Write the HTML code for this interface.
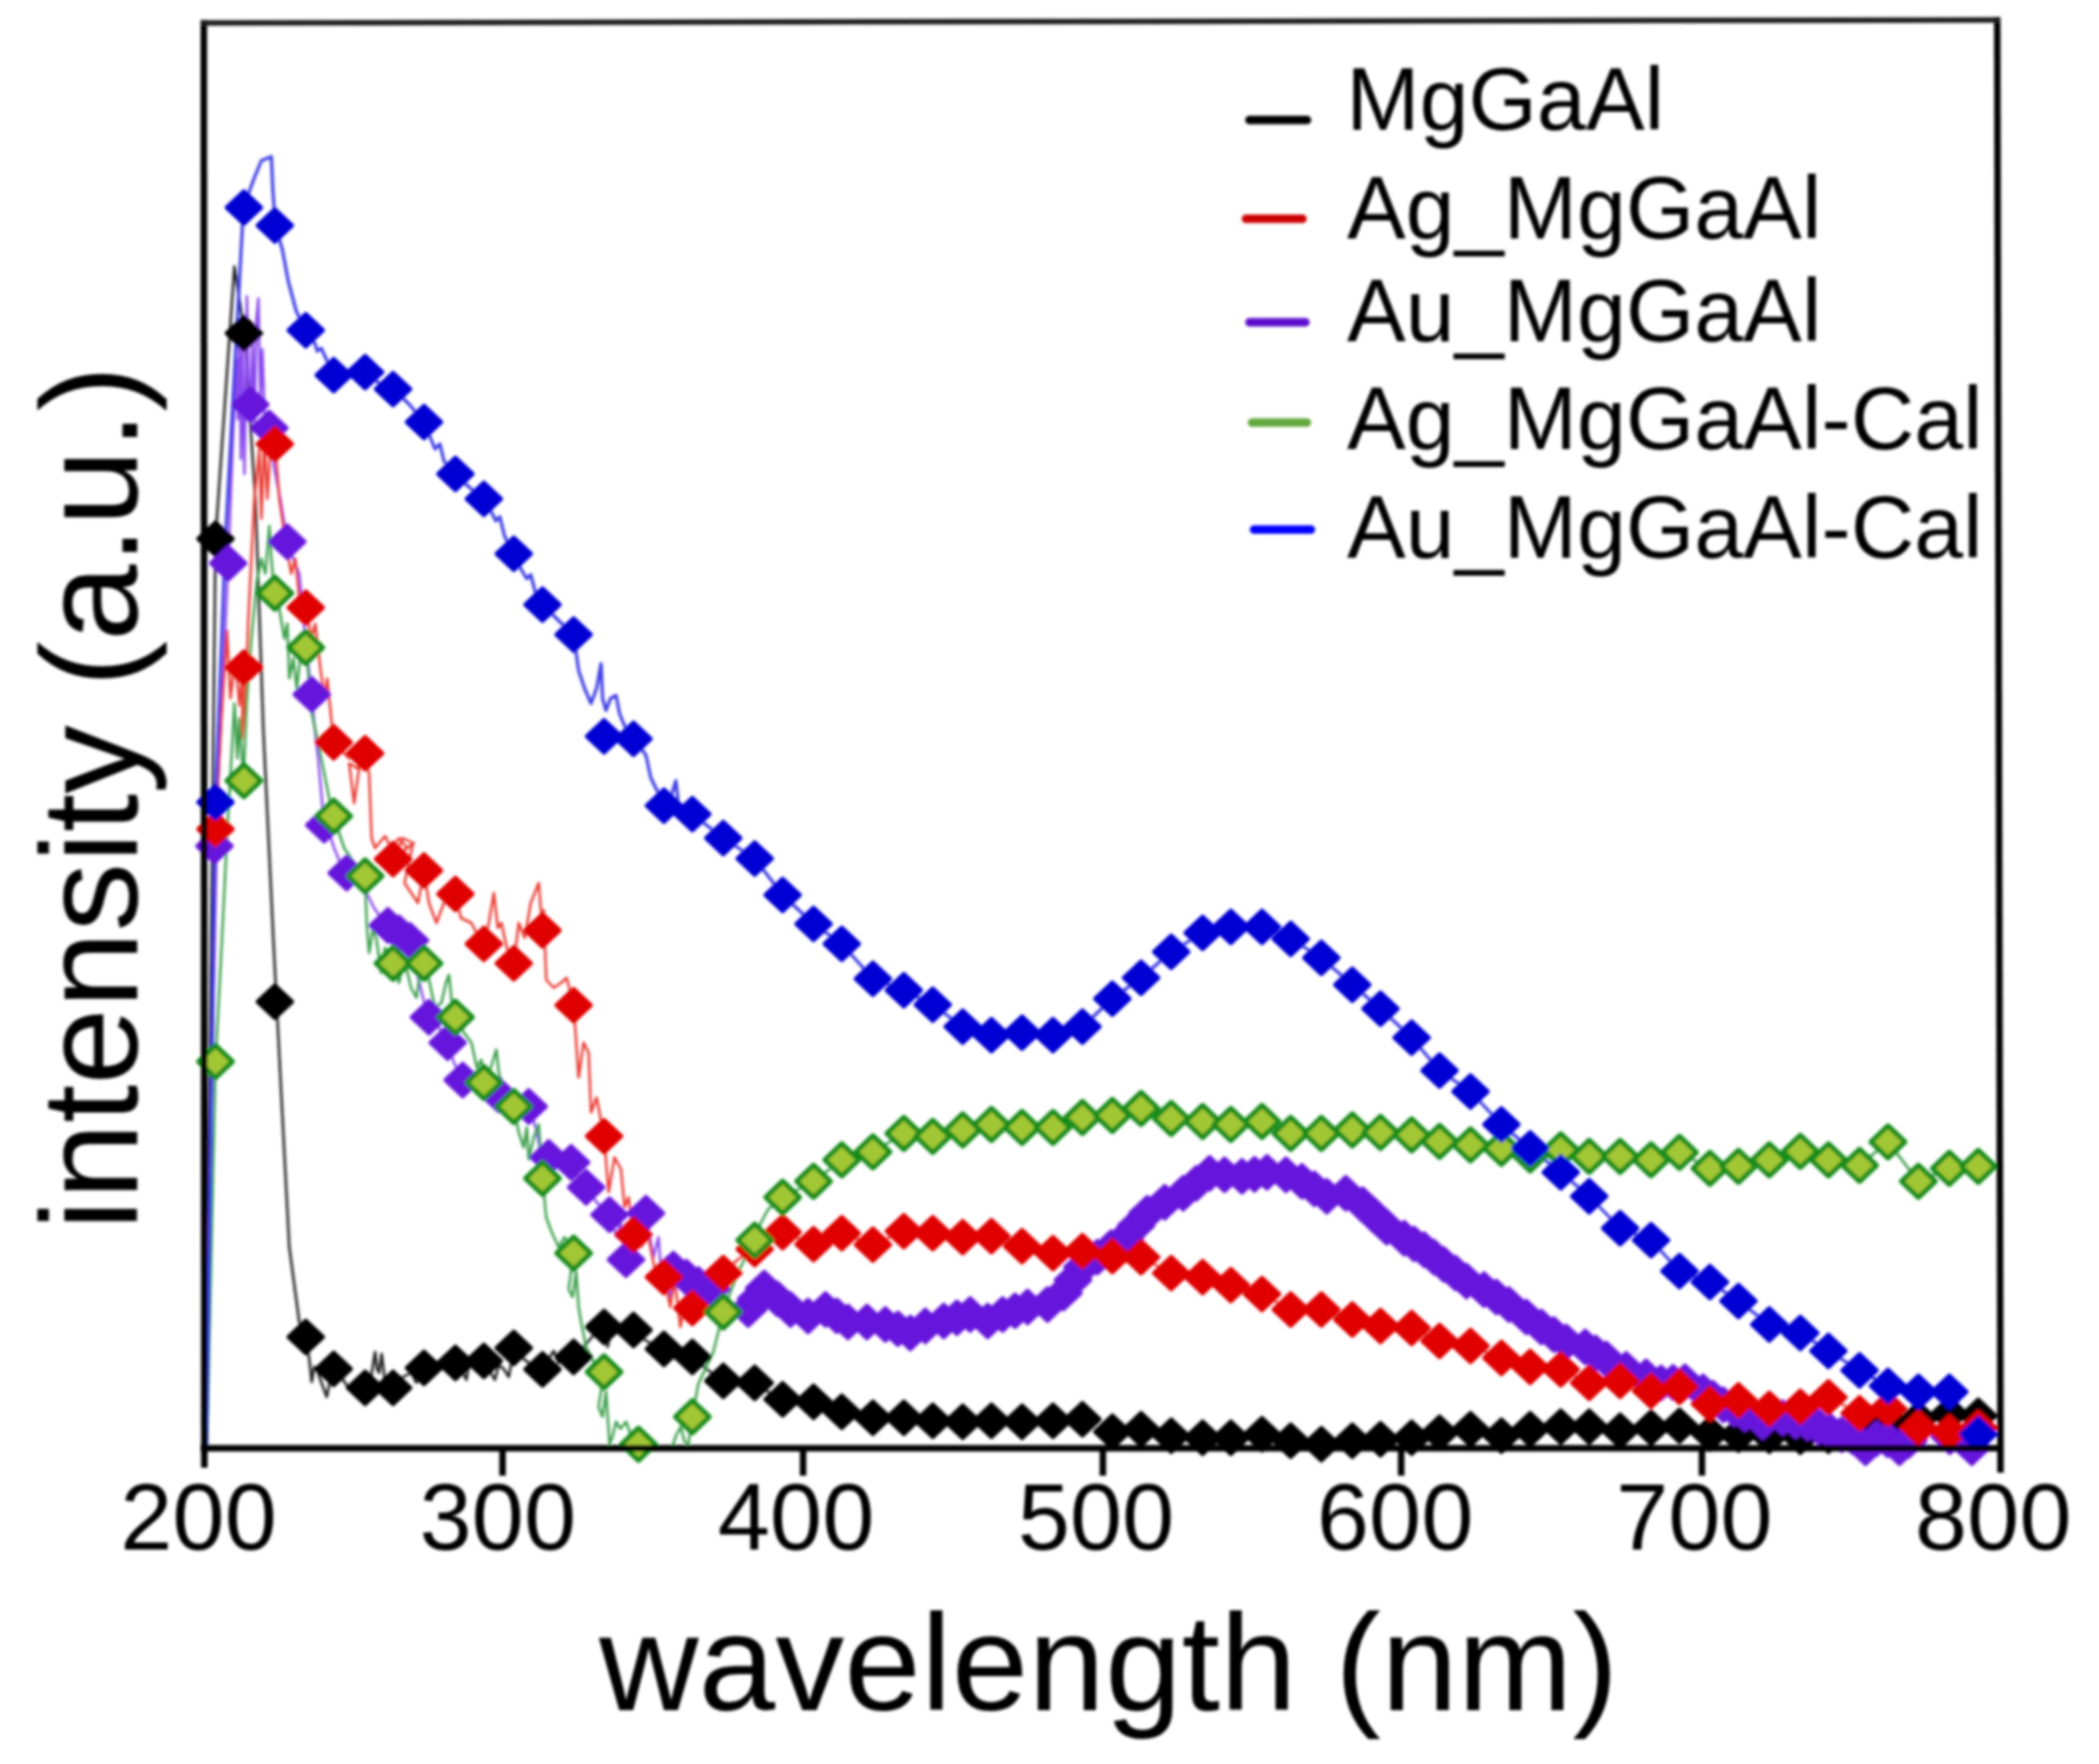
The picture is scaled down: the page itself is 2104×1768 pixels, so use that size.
<!DOCTYPE html>
<html><head><meta charset="utf-8"><title>UV-vis spectra</title>
<style>
html,body{margin:0;padding:0;background:#fff;}
body{width:2104px;height:1768px;overflow:hidden;}
svg{display:block;}
</style></head>
<body>
<svg width="2104" height="1768" viewBox="0 0 2104 1768">
<rect width="2104" height="1768" fill="#fff"/>
<g id="plot" filter="url(#soft)">
<defs><filter id="soft" x="-2%" y="-2%" width="104%" height="104%"><feGaussianBlur stdDeviation="1.4"/></filter>
<clipPath id="cl"><rect x="194" y="0" width="1815" height="1452"/></clipPath>
<clipPath id="cp"><rect x="194" y="0" width="1815" height="1472"/></clipPath></defs>
<g clip-path="url(#cp)">
<g id="lines" clip-path="url(#cl)">
<path d="M206.0 1452.0L216.0 540.0L235.0 267.0L245.0 334.0L256.0 500.0L264.0 732.0L274.0 941.0L282.5 1107.0L290.0 1250.0L300.0 1325.0L306.5 1340.0" fill="none" stroke="#1c1c1c" stroke-width="2.5" stroke-linejoin="round" stroke-linecap="round" opacity="1"/>
<path d="M306.5 1340.0L310.0 1362.0L312.5 1385.0L315.0 1370.0L317.5 1372.0L322.0 1385.0L327.5 1400.0L330.0 1388.0L334.5 1372.0L342.0 1380.0L350.0 1392.0L358.0 1385.0L366.0 1391.0L372.0 1380.0L376.0 1355.0L378.0 1372.0L380.0 1376.0L382.5 1357.0L386.0 1385.0L394.0 1391.0L404.0 1380.0L412.0 1376.0L417.5 1386.0L421.0 1372.0L425.0 1371.0L436.0 1366.0L446.0 1372.0L456.5 1366.0L463.0 1374.0L467.5 1383.0L470.0 1368.0L476.0 1372.0L485.0 1364.0L491.0 1374.0L496.0 1383.0L500.0 1368.0L505.0 1372.0L510.0 1380.0L515.0 1351.0L525.0 1362.0L535.0 1370.0L543.8 1372.5L550.0 1362.0L555.0 1354.0L560.0 1366.0L568.0 1362.0L575.0 1360.0L585.0 1350.0L595.0 1338.0L605.5 1330.0L609.0 1350.0L613.0 1334.0L622.0 1330.0L635.0 1333.0L645.0 1342.0L655.0 1348.0L665.5 1352.0L680.0 1358.0L694.0 1360.0L708.0 1372.0L725.0 1384.0L740.0 1385.0L756.5 1386.0L770.0 1395.0L784.5 1402.5" fill="none" stroke="#1c1c1c" stroke-width="2.5" stroke-linejoin="round" stroke-linecap="round" opacity="1"/>
<path d="M206.0 1452.0L212.0 1100.0L218.0 800.0L228.8 564.5L233.0 450.0L237.0 360.0L238.5 420.0L240.0 330.0L241.5 460.0L243.0 350.0L245.0 475.0L247.5 297.0L249.0 380.0L251.0 405.0L253.0 340.0L255.0 430.0L257.0 320.0L259.0 299.0L261.0 400.0L263.0 350.0L266.0 440.0L270.0 429.0L275.0 470.0L281.0 500.0L288.0 543.0L294.0 560.0L300.0 575.0L306.0 640.0L312.5 696.0L315.0 725.0L319.0 760.0L322.5 800.0L325.0 827.0L330.0 835.0L335.0 850.0L341.0 865.0L347.5 875.0L356.0 882.0L365.0 890.0L375.0 910.0L382.0 920.0L388.8 927.5L400.0 935.0L411.0 942.5L418.0 975.0L424.0 1000.0L430.0 1019.5L440.0 1030.0L448.8 1045.0L455.0 1065.0L463.8 1082.5L475.0 1088.0L490.0 1095.0L500.0 1097.5L515.0 1100.0L530.0 1109.0L537.0 1130.0L541.0 1150.0L539.0 1165.0L545.0 1160.0L550.0 1160.0L560.0 1160.0L572.5 1165.0L580.0 1180.0L587.5 1190.0L598.0 1205.0L611.0 1217.5L618.0 1240.0L622.0 1225.0L627.5 1262.5L634.0 1240.0L640.0 1225.0L647.5 1216.0L655.0 1260.0L660.0 1240.0L664.0 1290.0L668.0 1260.0L672.0 1300.0L680.0 1280.0L700.0 1287.5L720.0 1300.0L750.0 1312.5" fill="none" stroke="#8a48ee" stroke-width="2.5" stroke-linejoin="round" stroke-linecap="round" opacity="1"/>
<path d="M206.5 1452.0L216.0 831.0L222.0 720.0L227.5 632.0L231.0 700.0L236.0 660.0L240.0 707.0L244.0 669.0L242.5 740.0L246.0 700.0L249.0 620.0L255.0 500.0L258.0 470.0L260.0 450.0L262.0 520.0L265.0 440.0L268.0 500.0L271.0 450.0L275.8 445.0L280.0 500.0L286.0 541.0L292.0 575.0L296.0 560.0L300.0 600.0L307.0 609.0L312.0 640.0L316.0 625.0L320.0 660.0L325.0 700.0L328.0 680.0L334.5 744.0L340.0 750.0L350.0 760.0L365.5 755.0L358.0 770.0L350.0 765.0L355.0 805.0L360.0 770.0L366.0 760.0L370.0 775.0L372.5 840.0L376.0 850.0L380.0 845.0L386.0 838.0L392.0 850.0L400.0 840.0L408.0 850.0L415.0 845.0L394.0 861.0L403.8 840.0L414.0 845.0L405.5 885.0L419.0 905.0L425.0 872.5L430.0 905.0L437.5 925.0L445.0 905.0L456.5 896.0L462.0 920.0L472.5 925.0L480.0 940.0L485.0 946.0L490.0 925.0L495.0 895.0L499.0 930.0L502.5 925.0L508.0 950.0L515.0 965.5L520.0 925.0L526.0 940.0L532.0 905.0L540.0 885.0L543.8 932.5L545.0 912.0L547.5 982.0L555.0 990.0L562.5 985.0L568.0 980.0L575.0 1007.5L580.0 1080.0L585.0 1045.0L590.0 1055.0L592.5 1115.0L598.0 1100.0L605.5 1139.0L610.0 1195.0L616.0 1160.0L622.5 1172.0L626.0 1210.0L630.0 1200.0L635.0 1237.5L642.0 1250.0L650.0 1240.0L656.0 1270.0L665.5 1280.0L672.0 1310.0L676.0 1280.0L682.0 1330.0L688.0 1300.0L694.0 1311.0L705.0 1300.0L715.0 1285.0L725.0 1276.0L740.0 1262.0L756.5 1252.0" fill="none" stroke="#ea3a32" stroke-width="2.5" stroke-linejoin="round" stroke-linecap="round" opacity="1"/>
<path d="M756.5 1252.0L784.5 1235.0L815.5 1247.0L843.8 1236.0L875.0 1247.5L906.0 1234.0L935.0 1236.0L965.0 1240.0L993.8 1239.0L1024.5 1249.0L1055.5 1256.0L1085.0 1254.0L1115.0 1259.0L1143.8 1260.0L1174.0 1276.0L1205.5 1280.0L1233.8 1288.0L1265.0 1297.0L1293.8 1312.5L1324.5 1312.5L1355.5 1322.5L1383.8 1329.0L1415.0 1331.0L1443.0 1344.0L1474.0 1349.0L1505.0 1361.0L1533.8 1370.0L1564.5 1372.5L1593.0 1386.0L1624.0 1384.0L1655.0 1394.0L1683.5 1390.0L1714.0 1407.0L1742.6 1403.5L1773.5 1412.0L1804.6 1410.0L1832.8 1400.5L1864.0 1416.5L1892.5 1412.0L1923.0 1431.0L1954.0 1435.5L1983.0 1431.0" fill="none" stroke="#ea3a32" stroke-width="2.5" stroke-linejoin="round" stroke-linecap="round" opacity="1"/>
<path d="M207.5 1452.0L216.0 1064.0L222.5 941.0L228.0 830.0L232.0 760.0L235.0 705.0L238.0 760.0L240.0 720.0L244.0 782.5L247.5 700.0L252.0 640.0L257.5 582.0L262.0 560.0L266.0 575.0L270.0 527.0L272.0 560.0L275.0 594.5L280.0 610.0L285.0 640.0L288.0 625.0L290.0 680.0L294.0 660.0L297.5 690.0L302.0 650.0L306.8 649.0L312.5 715.0L318.0 740.0L325.0 775.0L330.0 800.0L334.5 818.0L340.0 835.0L345.0 850.0L355.0 865.0L366.0 878.0L367.5 925.0L370.0 955.0L374.0 930.0L377.5 942.0L382.0 975.0L386.0 950.0L393.8 965.5L400.0 985.0L405.0 960.0L412.0 990.0L417.5 1000.0L421.0 975.0L425.0 965.5L430.0 982.0L436.0 1010.0L442.5 1005.0L447.0 985.0L450.0 977.0L453.0 1005.0L457.0 1019.5L465.0 1035.0L472.5 1045.0L478.0 1070.0L482.5 1062.0L485.0 1085.0L492.0 1070.0L497.5 1052.0L500.0 1075.0L506.0 1095.0L515.0 1109.0L520.0 1135.0L525.0 1150.0L528.0 1130.0L530.0 1162.0L535.0 1140.0L540.0 1127.0L543.8 1181.0L547.5 1220.0L553.0 1235.0L560.0 1250.0L566.0 1240.0L575.0 1256.0L570.0 1292.0L574.0 1300.0L577.5 1275.0L580.0 1310.0L582.5 1325.0L587.5 1350.0L595.0 1365.0L605.5 1375.0L600.0 1410.0L604.0 1420.0L607.5 1395.0L611.0 1447.0L614.0 1440.0L617.5 1425.0L622.0 1432.0L627.5 1425.0L633.0 1440.0L640.0 1447.5L648.0 1462.0" fill="none" stroke="#3a9f4a" stroke-width="2.5" stroke-linejoin="round" stroke-linecap="round" opacity="1"/>
<path d="M668.0 1462.0L675.0 1447.0L678.0 1438.0L682.5 1430.0L686.0 1445.0L690.0 1447.0L694.0 1420.0L700.0 1387.0L708.0 1370.0L715.0 1355.0L725.0 1315.0L732.0 1295.0L740.0 1275.0L756.0 1242.5L763.0 1225.0L770.0 1212.0L784.5 1200.0" fill="none" stroke="#3a9f4a" stroke-width="2.5" stroke-linejoin="round" stroke-linecap="round" opacity="1"/>
<path d="M784.5 1200.0L815.5 1184.0L843.8 1162.5L875.0 1154.5L906.0 1136.0L935.0 1139.0L965.0 1132.5L993.8 1127.0L1024.5 1130.0L1055.5 1130.0L1085.0 1120.0L1115.0 1118.0L1143.8 1111.0L1174.0 1121.0L1205.5 1124.0L1233.8 1127.0L1265.0 1124.0L1293.8 1136.0L1324.5 1136.0L1355.5 1132.5L1383.8 1135.0L1415.0 1137.5L1443.0 1144.0L1474.0 1147.5L1505.0 1151.0L1533.8 1157.5L1564.5 1152.5L1593.0 1159.0L1624.0 1159.0L1655.0 1162.5L1683.5 1155.0L1714.0 1171.0L1742.6 1169.0L1773.5 1162.5L1804.6 1154.0L1832.8 1162.5L1864.0 1168.0L1892.5 1144.5L1923.0 1184.0L1954.0 1171.0L1983.0 1169.0" fill="none" stroke="#3a9f4a" stroke-width="2.5" stroke-linejoin="round" stroke-linecap="round" opacity="1"/>
<path d="M207.0 1452.0L216.0 804.0L226.0 540.0L244.0 208.0L255.0 178.0L262.0 161.0L272.0 157.0L273.5 190.0L276.0 226.0L283.0 250.0L289.0 282.0L297.0 312.0L306.5 331.0" fill="none" stroke="#3c3ce6" stroke-width="3.2" stroke-linejoin="round" stroke-linecap="round" opacity="1"/>
<path d="M306.5 331.0L316.0 345.0L318.0 352.0L322.0 349.0L334.5 376.0L350.0 372.0L366.0 373.0L380.0 384.0L394.0 390.0L410.0 405.0L425.0 423.0L432.0 440.0L436.0 450.0L441.0 445.0L445.0 462.0L456.5 475.0L470.0 488.0L485.0 500.0L492.0 512.0L497.0 522.0L501.0 518.0L506.0 538.0L515.0 555.0L522.0 570.0L528.0 580.0L532.0 576.0L537.0 595.0L543.8 606.0L560.0 622.0L575.0 636.0L580.0 672.0L586.0 690.0L592.5 705.0L598.0 690.0L602.5 665.0L604.0 700.0L607.5 712.0L612.0 700.0L617.5 697.0L621.0 715.0L625.0 725.0L630.0 735.0L636.0 740.5L647.5 757.0L652.5 780.0L660.0 795.0L665.5 807.5L672.0 800.0L677.5 782.5L680.0 805.0L694.0 816.0" fill="none" stroke="#3c3ce6" stroke-width="3.2" stroke-linejoin="round" stroke-linecap="round" opacity="1"/>
<path d="M694.0 816.0L725.0 840.0L756.5 860.5L784.5 897.0L815.5 926.0L843.8 946.0L875.0 981.0L906.0 992.5L935.0 1007.0L965.0 1029.0L993.8 1037.5L1024.5 1035.0L1055.5 1037.5L1085.0 1029.0L1115.0 1001.0L1143.8 980.0L1174.0 954.0L1205.5 935.0L1233.8 929.0L1265.0 929.0L1293.8 941.0L1324.5 960.0L1355.5 987.0L1383.8 1011.0L1415.0 1040.0L1443.0 1073.0L1474.0 1094.0L1505.0 1127.0L1533.8 1151.0L1564.5 1175.0L1593.0 1199.0L1624.0 1231.0L1655.0 1243.0L1683.5 1274.0L1714.0 1285.0L1742.6 1304.0L1773.5 1327.5L1804.6 1336.0L1832.8 1354.0L1864.0 1373.5L1892.5 1389.0L1923.0 1395.0L1954.0 1395.0L1983.0 1437.5" fill="none" stroke="#3c3ce6" stroke-width="3.2" stroke-linejoin="round" stroke-linecap="round" opacity="1"/>
</g>
<g id="s-black">
<path d="M216.0 523.7L233.3 540.0L216.0 556.3L198.7 540.0Z" fill="#000" stroke="#000" stroke-width="4" stroke-linejoin="round"/>
<path d="M244.5 317.7L261.8 334.0L244.5 350.3L227.2 334.0Z" fill="#000" stroke="#000" stroke-width="4" stroke-linejoin="round"/>
<path d="M275.5 987.7L292.8 1004.0L275.5 1020.3L258.2 1004.0Z" fill="#000" stroke="#000" stroke-width="4" stroke-linejoin="round"/>
<path d="M306.5 1323.7L323.8 1340.0L306.5 1356.3L289.2 1340.0Z" fill="#000" stroke="#000" stroke-width="4" stroke-linejoin="round"/>
<path d="M334.5 1355.7L351.8 1372.0L334.5 1388.3L317.2 1372.0Z" fill="#000" stroke="#000" stroke-width="4" stroke-linejoin="round"/>
<path d="M366.0 1374.7L383.3 1391.0L366.0 1407.3L348.7 1391.0Z" fill="#000" stroke="#000" stroke-width="4" stroke-linejoin="round"/>
<path d="M394.0 1374.7L411.3 1391.0L394.0 1407.3L376.7 1391.0Z" fill="#000" stroke="#000" stroke-width="4" stroke-linejoin="round"/>
<path d="M425.0 1354.7L442.3 1371.0L425.0 1387.3L407.7 1371.0Z" fill="#000" stroke="#000" stroke-width="4" stroke-linejoin="round"/>
<path d="M456.5 1349.7L473.8 1366.0L456.5 1382.3L439.2 1366.0Z" fill="#000" stroke="#000" stroke-width="4" stroke-linejoin="round"/>
<path d="M485.0 1347.7L502.3 1364.0L485.0 1380.3L467.7 1364.0Z" fill="#000" stroke="#000" stroke-width="4" stroke-linejoin="round"/>
<path d="M515.0 1334.7L532.3 1351.0L515.0 1367.3L497.7 1351.0Z" fill="#000" stroke="#000" stroke-width="4" stroke-linejoin="round"/>
<path d="M543.8 1356.2L561.1 1372.5L543.8 1388.8L526.5 1372.5Z" fill="#000" stroke="#000" stroke-width="4" stroke-linejoin="round"/>
<path d="M575.0 1343.7L592.3 1360.0L575.0 1376.3L557.7 1360.0Z" fill="#000" stroke="#000" stroke-width="4" stroke-linejoin="round"/>
<path d="M605.5 1313.7L622.8 1330.0L605.5 1346.3L588.2 1330.0Z" fill="#000" stroke="#000" stroke-width="4" stroke-linejoin="round"/>
<path d="M635.0 1316.7L652.3 1333.0L635.0 1349.3L617.7 1333.0Z" fill="#000" stroke="#000" stroke-width="4" stroke-linejoin="round"/>
<path d="M665.5 1335.7L682.8 1352.0L665.5 1368.3L648.2 1352.0Z" fill="#000" stroke="#000" stroke-width="4" stroke-linejoin="round"/>
<path d="M694.0 1343.7L711.3 1360.0L694.0 1376.3L676.7 1360.0Z" fill="#000" stroke="#000" stroke-width="4" stroke-linejoin="round"/>
<path d="M725.0 1367.7L742.3 1384.0L725.0 1400.3L707.7 1384.0Z" fill="#000" stroke="#000" stroke-width="4" stroke-linejoin="round"/>
<path d="M756.5 1369.7L773.8 1386.0L756.5 1402.3L739.2 1386.0Z" fill="#000" stroke="#000" stroke-width="4" stroke-linejoin="round"/>
<path d="M784.5 1386.2L801.8 1402.5L784.5 1418.8L767.2 1402.5Z" fill="#000" stroke="#000" stroke-width="4" stroke-linejoin="round"/>
<path d="M815.5 1388.7L832.8 1405.0L815.5 1421.3L798.2 1405.0Z" fill="#000" stroke="#000" stroke-width="4" stroke-linejoin="round"/>
<path d="M843.8 1398.7L861.1 1415.0L843.8 1431.3L826.5 1415.0Z" fill="#000" stroke="#000" stroke-width="4" stroke-linejoin="round"/>
<path d="M875.0 1404.7L892.3 1421.0L875.0 1437.3L857.7 1421.0Z" fill="#000" stroke="#000" stroke-width="4" stroke-linejoin="round"/>
<path d="M906.0 1404.7L923.3 1421.0L906.0 1437.3L888.7 1421.0Z" fill="#000" stroke="#000" stroke-width="4" stroke-linejoin="round"/>
<path d="M935.0 1407.7L952.3 1424.0L935.0 1440.3L917.7 1424.0Z" fill="#000" stroke="#000" stroke-width="4" stroke-linejoin="round"/>
<path d="M965.0 1408.7L982.3 1425.0L965.0 1441.3L947.7 1425.0Z" fill="#000" stroke="#000" stroke-width="4" stroke-linejoin="round"/>
<path d="M993.8 1407.7L1011.1 1424.0L993.8 1440.3L976.5 1424.0Z" fill="#000" stroke="#000" stroke-width="4" stroke-linejoin="round"/>
<path d="M1024.5 1408.7L1041.8 1425.0L1024.5 1441.3L1007.2 1425.0Z" fill="#000" stroke="#000" stroke-width="4" stroke-linejoin="round"/>
<path d="M1055.5 1407.7L1072.8 1424.0L1055.5 1440.3L1038.2 1424.0Z" fill="#000" stroke="#000" stroke-width="4" stroke-linejoin="round"/>
<path d="M1085.0 1406.2L1102.3 1422.5L1085.0 1438.8L1067.7 1422.5Z" fill="#000" stroke="#000" stroke-width="4" stroke-linejoin="round"/>
<path d="M1115.0 1418.7L1132.3 1435.0L1115.0 1451.3L1097.7 1435.0Z" fill="#000" stroke="#000" stroke-width="4" stroke-linejoin="round"/>
<path d="M1143.8 1416.2L1161.1 1432.5L1143.8 1448.8L1126.5 1432.5Z" fill="#000" stroke="#000" stroke-width="4" stroke-linejoin="round"/>
<path d="M1174.0 1422.7L1191.3 1439.0L1174.0 1455.3L1156.7 1439.0Z" fill="#000" stroke="#000" stroke-width="4" stroke-linejoin="round"/>
<path d="M1205.5 1424.7L1222.8 1441.0L1205.5 1457.3L1188.2 1441.0Z" fill="#000" stroke="#000" stroke-width="4" stroke-linejoin="round"/>
<path d="M1233.8 1424.7L1251.1 1441.0L1233.8 1457.3L1216.5 1441.0Z" fill="#000" stroke="#000" stroke-width="4" stroke-linejoin="round"/>
<path d="M1265.0 1421.2L1282.3 1437.5L1265.0 1453.8L1247.7 1437.5Z" fill="#000" stroke="#000" stroke-width="4" stroke-linejoin="round"/>
<path d="M1293.8 1427.7L1311.1 1444.0L1293.8 1460.3L1276.5 1444.0Z" fill="#000" stroke="#000" stroke-width="4" stroke-linejoin="round"/>
<path d="M1324.5 1431.2L1341.8 1447.5L1324.5 1463.8L1307.2 1447.5Z" fill="#000" stroke="#000" stroke-width="4" stroke-linejoin="round"/>
<path d="M1355.5 1427.7L1372.8 1444.0L1355.5 1460.3L1338.2 1444.0Z" fill="#000" stroke="#000" stroke-width="4" stroke-linejoin="round"/>
<path d="M1383.8 1426.2L1401.1 1442.5L1383.8 1458.8L1366.5 1442.5Z" fill="#000" stroke="#000" stroke-width="4" stroke-linejoin="round"/>
<path d="M1415.0 1424.7L1432.3 1441.0L1415.0 1457.3L1397.7 1441.0Z" fill="#000" stroke="#000" stroke-width="4" stroke-linejoin="round"/>
<path d="M1443.0 1419.7L1460.3 1436.0L1443.0 1452.3L1425.7 1436.0Z" fill="#000" stroke="#000" stroke-width="4" stroke-linejoin="round"/>
<path d="M1474.0 1416.2L1491.3 1432.5L1474.0 1448.8L1456.7 1432.5Z" fill="#000" stroke="#000" stroke-width="4" stroke-linejoin="round"/>
<path d="M1505.0 1422.7L1522.3 1439.0L1505.0 1455.3L1487.7 1439.0Z" fill="#000" stroke="#000" stroke-width="4" stroke-linejoin="round"/>
<path d="M1533.8 1416.2L1551.1 1432.5L1533.8 1448.8L1516.5 1432.5Z" fill="#000" stroke="#000" stroke-width="4" stroke-linejoin="round"/>
<path d="M1564.5 1413.7L1581.8 1430.0L1564.5 1446.3L1547.2 1430.0Z" fill="#000" stroke="#000" stroke-width="4" stroke-linejoin="round"/>
<path d="M1593.0 1413.7L1610.3 1430.0L1593.0 1446.3L1575.7 1430.0Z" fill="#000" stroke="#000" stroke-width="4" stroke-linejoin="round"/>
<path d="M1624.0 1417.7L1641.3 1434.0L1624.0 1450.3L1606.7 1434.0Z" fill="#000" stroke="#000" stroke-width="4" stroke-linejoin="round"/>
<path d="M1655.0 1414.7L1672.3 1431.0L1655.0 1447.3L1637.7 1431.0Z" fill="#000" stroke="#000" stroke-width="4" stroke-linejoin="round"/>
<path d="M1683.5 1412.7L1700.8 1429.0L1683.5 1445.3L1666.2 1429.0Z" fill="#000" stroke="#000" stroke-width="4" stroke-linejoin="round"/>
<path d="M1714.0 1420.7L1731.3 1437.0L1714.0 1453.3L1696.7 1437.0Z" fill="#000" stroke="#000" stroke-width="4" stroke-linejoin="round"/>
<path d="M1742.6 1421.7L1759.9 1438.0L1742.6 1454.3L1725.3 1438.0Z" fill="#000" stroke="#000" stroke-width="4" stroke-linejoin="round"/>
<path d="M1773.5 1422.7L1790.8 1439.0L1773.5 1455.3L1756.2 1439.0Z" fill="#000" stroke="#000" stroke-width="4" stroke-linejoin="round"/>
<path d="M1804.6 1423.7L1821.9 1440.0L1804.6 1456.3L1787.3 1440.0Z" fill="#000" stroke="#000" stroke-width="4" stroke-linejoin="round"/>
<path d="M1832.8 1422.7L1850.1 1439.0L1832.8 1455.3L1815.5 1439.0Z" fill="#000" stroke="#000" stroke-width="4" stroke-linejoin="round"/>
<path d="M1864.0 1414.7L1881.3 1431.0L1864.0 1447.3L1846.7 1431.0Z" fill="#000" stroke="#000" stroke-width="4" stroke-linejoin="round"/>
<path d="M1892.5 1408.7L1909.8 1425.0L1892.5 1441.3L1875.2 1425.0Z" fill="#000" stroke="#000" stroke-width="4" stroke-linejoin="round"/>
<path d="M1923.0 1405.7L1940.3 1422.0L1923.0 1438.3L1905.7 1422.0Z" fill="#000" stroke="#000" stroke-width="4" stroke-linejoin="round"/>
<path d="M1954.0 1400.7L1971.3 1417.0L1954.0 1433.3L1936.7 1417.0Z" fill="#000" stroke="#000" stroke-width="4" stroke-linejoin="round"/>
<path d="M1983.0 1402.7L2000.3 1419.0L1983.0 1435.3L1965.7 1419.0Z" fill="#000" stroke="#000" stroke-width="4" stroke-linejoin="round"/>
</g>
<g id="s-purple">
<path d="M215.0 831.7L232.3 848.0L215.0 864.3L197.7 848.0Z" fill="#6612dc" stroke="#6612dc" stroke-width="4" stroke-linejoin="round"/>
<path d="M228.8 548.2L246.1 564.5L228.8 580.8L211.5 564.5Z" fill="#6612dc" stroke="#6612dc" stroke-width="4" stroke-linejoin="round"/>
<path d="M251.0 389.2L268.3 405.5L251.0 421.8L233.7 405.5Z" fill="#6612dc" stroke="#6612dc" stroke-width="4" stroke-linejoin="round"/>
<path d="M270.0 412.7L287.3 429.0L270.0 445.3L252.7 429.0Z" fill="#6612dc" stroke="#6612dc" stroke-width="4" stroke-linejoin="round"/>
<path d="M288.0 526.7L305.3 543.0L288.0 559.3L270.7 543.0Z" fill="#6612dc" stroke="#6612dc" stroke-width="4" stroke-linejoin="round"/>
<path d="M312.5 679.7L329.8 696.0L312.5 712.3L295.2 696.0Z" fill="#6612dc" stroke="#6612dc" stroke-width="4" stroke-linejoin="round"/>
<path d="M325.0 810.7L342.3 827.0L325.0 843.3L307.7 827.0Z" fill="#6612dc" stroke="#6612dc" stroke-width="4" stroke-linejoin="round"/>
<path d="M347.5 858.7L364.8 875.0L347.5 891.3L330.2 875.0Z" fill="#6612dc" stroke="#6612dc" stroke-width="4" stroke-linejoin="round"/>
<path d="M388.8 911.2L406.1 927.5L388.8 943.8L371.5 927.5Z" fill="#6612dc" stroke="#6612dc" stroke-width="4" stroke-linejoin="round"/>
<path d="M400.0 918.7L417.3 935.0L400.0 951.3L382.7 935.0Z" fill="#6612dc" stroke="#6612dc" stroke-width="4" stroke-linejoin="round"/>
<path d="M411.0 926.2L428.3 942.5L411.0 958.8L393.7 942.5Z" fill="#6612dc" stroke="#6612dc" stroke-width="4" stroke-linejoin="round"/>
<path d="M430.0 1003.2L447.3 1019.5L430.0 1035.8L412.7 1019.5Z" fill="#6612dc" stroke="#6612dc" stroke-width="4" stroke-linejoin="round"/>
<path d="M448.8 1028.7L466.1 1045.0L448.8 1061.3L431.5 1045.0Z" fill="#6612dc" stroke="#6612dc" stroke-width="4" stroke-linejoin="round"/>
<path d="M463.8 1066.2L481.1 1082.5L463.8 1098.8L446.5 1082.5Z" fill="#6612dc" stroke="#6612dc" stroke-width="4" stroke-linejoin="round"/>
<path d="M500.0 1081.2L517.3 1097.5L500.0 1113.8L482.7 1097.5Z" fill="#6612dc" stroke="#6612dc" stroke-width="4" stroke-linejoin="round"/>
<path d="M530.0 1092.7L547.3 1109.0L530.0 1125.3L512.7 1109.0Z" fill="#6612dc" stroke="#6612dc" stroke-width="4" stroke-linejoin="round"/>
<path d="M550.0 1143.7L567.3 1160.0L550.0 1176.3L532.7 1160.0Z" fill="#6612dc" stroke="#6612dc" stroke-width="4" stroke-linejoin="round"/>
<path d="M572.5 1148.7L589.8 1165.0L572.5 1181.3L555.2 1165.0Z" fill="#6612dc" stroke="#6612dc" stroke-width="4" stroke-linejoin="round"/>
<path d="M587.5 1173.7L604.8 1190.0L587.5 1206.3L570.2 1190.0Z" fill="#6612dc" stroke="#6612dc" stroke-width="4" stroke-linejoin="round"/>
<path d="M611.0 1201.2L628.3 1217.5L611.0 1233.8L593.7 1217.5Z" fill="#6612dc" stroke="#6612dc" stroke-width="4" stroke-linejoin="round"/>
<path d="M647.5 1199.7L664.8 1216.0L647.5 1232.3L630.2 1216.0Z" fill="#6612dc" stroke="#6612dc" stroke-width="4" stroke-linejoin="round"/>
<path d="M627.5 1246.2L644.8 1262.5L627.5 1278.8L610.2 1262.5Z" fill="#6612dc" stroke="#6612dc" stroke-width="4" stroke-linejoin="round"/>
<path d="M675.0 1255.7L692.3 1272.0L675.0 1288.3L657.7 1272.0Z" fill="#6612dc" stroke="#6612dc" stroke-width="4" stroke-linejoin="round"/>
<path d="M688.0 1263.7L705.3 1280.0L688.0 1296.3L670.7 1280.0Z" fill="#6612dc" stroke="#6612dc" stroke-width="4" stroke-linejoin="round"/>
<path d="M700.0 1271.2L717.3 1287.5L700.0 1303.8L682.7 1287.5Z" fill="#6612dc" stroke="#6612dc" stroke-width="4" stroke-linejoin="round"/>
<path d="M713.0 1275.7L730.3 1292.0L713.0 1308.3L695.7 1292.0Z" fill="#6612dc" stroke="#6612dc" stroke-width="4" stroke-linejoin="round"/>
<path d="M1954.5 1423.7L1971.8 1440.0L1954.5 1456.3L1937.2 1440.0Z" fill="#6612dc" stroke="#6612dc" stroke-width="4" stroke-linejoin="round"/>
<path d="M1976.5 1434.7L1993.8 1451.0L1976.5 1467.3L1959.2 1451.0Z" fill="#6612dc" stroke="#6612dc" stroke-width="4" stroke-linejoin="round"/>
<path d="M750.0 1296.2L767.3 1312.5L750.0 1328.8L732.7 1312.5Z" fill="#6612dc" stroke="#6612dc" stroke-width="4" stroke-linejoin="round"/>
<path d="M758.0 1285.5L775.3 1301.8L758.0 1318.0L740.7 1301.8Z" fill="#6612dc" stroke="#6612dc" stroke-width="4" stroke-linejoin="round"/>
<path d="M766.0 1274.7L783.3 1291.0L766.0 1307.3L748.7 1291.0Z" fill="#6612dc" stroke="#6612dc" stroke-width="4" stroke-linejoin="round"/>
<path d="M779.2 1285.5L796.5 1301.8L779.2 1318.0L762.0 1301.8Z" fill="#6612dc" stroke="#6612dc" stroke-width="4" stroke-linejoin="round"/>
<path d="M792.5 1296.2L809.8 1312.5L792.5 1328.8L775.2 1312.5Z" fill="#6612dc" stroke="#6612dc" stroke-width="4" stroke-linejoin="round"/>
<path d="M810.0 1302.7L827.3 1319.0L810.0 1335.3L792.7 1319.0Z" fill="#6612dc" stroke="#6612dc" stroke-width="4" stroke-linejoin="round"/>
<path d="M827.5 1296.2L844.8 1312.5L827.5 1328.8L810.2 1312.5Z" fill="#6612dc" stroke="#6612dc" stroke-width="4" stroke-linejoin="round"/>
<path d="M838.8 1302.5L856.0 1318.8L838.8 1335.0L821.5 1318.8Z" fill="#6612dc" stroke="#6612dc" stroke-width="4" stroke-linejoin="round"/>
<path d="M850.0 1308.7L867.3 1325.0L850.0 1341.3L832.7 1325.0Z" fill="#6612dc" stroke="#6612dc" stroke-width="4" stroke-linejoin="round"/>
<path d="M869.0 1308.7L886.3 1325.0L869.0 1341.3L851.7 1325.0Z" fill="#6612dc" stroke="#6612dc" stroke-width="4" stroke-linejoin="round"/>
<path d="M887.5 1311.2L904.8 1327.5L887.5 1343.8L870.2 1327.5Z" fill="#6612dc" stroke="#6612dc" stroke-width="4" stroke-linejoin="round"/>
<path d="M900.0 1315.5L917.3 1331.8L900.0 1348.0L882.7 1331.8Z" fill="#6612dc" stroke="#6612dc" stroke-width="4" stroke-linejoin="round"/>
<path d="M912.5 1319.7L929.8 1336.0L912.5 1352.3L895.2 1336.0Z" fill="#6612dc" stroke="#6612dc" stroke-width="4" stroke-linejoin="round"/>
<path d="M927.5 1312.7L944.8 1329.0L927.5 1345.3L910.2 1329.0Z" fill="#6612dc" stroke="#6612dc" stroke-width="4" stroke-linejoin="round"/>
<path d="M946.0 1307.7L963.3 1324.0L946.0 1340.3L928.7 1324.0Z" fill="#6612dc" stroke="#6612dc" stroke-width="4" stroke-linejoin="round"/>
<path d="M959.2 1304.5L976.5 1320.8L959.2 1337.0L942.0 1320.8Z" fill="#6612dc" stroke="#6612dc" stroke-width="4" stroke-linejoin="round"/>
<path d="M972.5 1301.2L989.8 1317.5L972.5 1333.8L955.2 1317.5Z" fill="#6612dc" stroke="#6612dc" stroke-width="4" stroke-linejoin="round"/>
<path d="M990.0 1307.7L1007.3 1324.0L990.0 1340.3L972.7 1324.0Z" fill="#6612dc" stroke="#6612dc" stroke-width="4" stroke-linejoin="round"/>
<path d="M1005.0 1301.2L1022.3 1317.5L1005.0 1333.8L987.7 1317.5Z" fill="#6612dc" stroke="#6612dc" stroke-width="4" stroke-linejoin="round"/>
<path d="M1017.5 1297.5L1034.8 1313.8L1017.5 1330.0L1000.2 1313.8Z" fill="#6612dc" stroke="#6612dc" stroke-width="4" stroke-linejoin="round"/>
<path d="M1030.0 1293.7L1047.3 1310.0L1030.0 1326.3L1012.7 1310.0Z" fill="#6612dc" stroke="#6612dc" stroke-width="4" stroke-linejoin="round"/>
<path d="M1050.0 1291.2L1067.3 1307.5L1050.0 1323.8L1032.7 1307.5Z" fill="#6612dc" stroke="#6612dc" stroke-width="4" stroke-linejoin="round"/>
<path d="M1066.0 1279.7L1083.3 1296.0L1066.0 1312.3L1048.7 1296.0Z" fill="#6612dc" stroke="#6612dc" stroke-width="4" stroke-linejoin="round"/>
<path d="M1075.5 1266.7L1092.8 1283.0L1075.5 1299.3L1058.2 1283.0Z" fill="#6612dc" stroke="#6612dc" stroke-width="4" stroke-linejoin="round"/>
<path d="M1085.0 1253.7L1102.3 1270.0L1085.0 1286.3L1067.7 1270.0Z" fill="#6612dc" stroke="#6612dc" stroke-width="4" stroke-linejoin="round"/>
<path d="M1100.0 1243.7L1117.3 1260.0L1100.0 1276.3L1082.7 1260.0Z" fill="#6612dc" stroke="#6612dc" stroke-width="4" stroke-linejoin="round"/>
<path d="M1113.8 1234.2L1131.0 1250.5L1113.8 1266.8L1096.5 1250.5Z" fill="#6612dc" stroke="#6612dc" stroke-width="4" stroke-linejoin="round"/>
<path d="M1127.5 1224.7L1144.8 1241.0L1127.5 1257.3L1110.2 1241.0Z" fill="#6612dc" stroke="#6612dc" stroke-width="4" stroke-linejoin="round"/>
<path d="M1138.8 1212.2L1156.0 1228.5L1138.8 1244.8L1121.5 1228.5Z" fill="#6612dc" stroke="#6612dc" stroke-width="4" stroke-linejoin="round"/>
<path d="M1150.0 1199.7L1167.3 1216.0L1150.0 1232.3L1132.7 1216.0Z" fill="#6612dc" stroke="#6612dc" stroke-width="4" stroke-linejoin="round"/>
<path d="M1167.5 1188.7L1184.8 1205.0L1167.5 1221.3L1150.2 1205.0Z" fill="#6612dc" stroke="#6612dc" stroke-width="4" stroke-linejoin="round"/>
<path d="M1186.0 1179.7L1203.3 1196.0L1186.0 1212.3L1168.7 1196.0Z" fill="#6612dc" stroke="#6612dc" stroke-width="4" stroke-linejoin="round"/>
<path d="M1199.2 1169.7L1216.5 1186.0L1199.2 1202.3L1182.0 1186.0Z" fill="#6612dc" stroke="#6612dc" stroke-width="4" stroke-linejoin="round"/>
<path d="M1212.5 1159.7L1229.8 1176.0L1212.5 1192.3L1195.2 1176.0Z" fill="#6612dc" stroke="#6612dc" stroke-width="4" stroke-linejoin="round"/>
<path d="M1227.5 1161.2L1244.8 1177.5L1227.5 1193.8L1210.2 1177.5Z" fill="#6612dc" stroke="#6612dc" stroke-width="4" stroke-linejoin="round"/>
<path d="M1245.0 1162.7L1262.3 1179.0L1245.0 1195.3L1227.7 1179.0Z" fill="#6612dc" stroke="#6612dc" stroke-width="4" stroke-linejoin="round"/>
<path d="M1257.5 1160.7L1274.8 1177.0L1257.5 1193.3L1240.2 1177.0Z" fill="#6612dc" stroke="#6612dc" stroke-width="4" stroke-linejoin="round"/>
<path d="M1270.0 1158.7L1287.3 1175.0L1270.0 1191.3L1252.7 1175.0Z" fill="#6612dc" stroke="#6612dc" stroke-width="4" stroke-linejoin="round"/>
<path d="M1289.0 1161.2L1306.3 1177.5L1289.0 1193.8L1271.7 1177.5Z" fill="#6612dc" stroke="#6612dc" stroke-width="4" stroke-linejoin="round"/>
<path d="M1305.0 1167.7L1322.3 1184.0L1305.0 1200.3L1287.7 1184.0Z" fill="#6612dc" stroke="#6612dc" stroke-width="4" stroke-linejoin="round"/>
<path d="M1317.5 1175.2L1334.8 1191.5L1317.5 1207.8L1300.2 1191.5Z" fill="#6612dc" stroke="#6612dc" stroke-width="4" stroke-linejoin="round"/>
<path d="M1330.0 1182.7L1347.3 1199.0L1330.0 1215.3L1312.7 1199.0Z" fill="#6612dc" stroke="#6612dc" stroke-width="4" stroke-linejoin="round"/>
<path d="M1349.0 1179.7L1366.3 1196.0L1349.0 1212.3L1331.7 1196.0Z" fill="#6612dc" stroke="#6612dc" stroke-width="4" stroke-linejoin="round"/>
<path d="M1366.0 1191.2L1383.3 1207.5L1366.0 1223.8L1348.7 1207.5Z" fill="#6612dc" stroke="#6612dc" stroke-width="4" stroke-linejoin="round"/>
<path d="M1378.0 1202.5L1395.3 1218.8L1378.0 1235.0L1360.7 1218.8Z" fill="#6612dc" stroke="#6612dc" stroke-width="4" stroke-linejoin="round"/>
<path d="M1390.0 1213.7L1407.3 1230.0L1390.0 1246.3L1372.7 1230.0Z" fill="#6612dc" stroke="#6612dc" stroke-width="4" stroke-linejoin="round"/>
<path d="M1407.5 1224.7L1424.8 1241.0L1407.5 1257.3L1390.2 1241.0Z" fill="#6612dc" stroke="#6612dc" stroke-width="4" stroke-linejoin="round"/>
<path d="M1417.5 1230.5L1434.8 1246.8L1417.5 1263.0L1400.2 1246.8Z" fill="#6612dc" stroke="#6612dc" stroke-width="4" stroke-linejoin="round"/>
<path d="M1427.5 1236.2L1444.8 1252.5L1427.5 1268.8L1410.2 1252.5Z" fill="#6612dc" stroke="#6612dc" stroke-width="4" stroke-linejoin="round"/>
<path d="M1437.5 1243.7L1454.8 1260.0L1437.5 1276.3L1420.2 1260.0Z" fill="#6612dc" stroke="#6612dc" stroke-width="4" stroke-linejoin="round"/>
<path d="M1447.5 1251.2L1464.8 1267.5L1447.5 1283.8L1430.2 1267.5Z" fill="#6612dc" stroke="#6612dc" stroke-width="4" stroke-linejoin="round"/>
<path d="M1458.8 1259.5L1476.0 1275.8L1458.8 1292.0L1441.5 1275.8Z" fill="#6612dc" stroke="#6612dc" stroke-width="4" stroke-linejoin="round"/>
<path d="M1470.0 1267.7L1487.3 1284.0L1470.0 1300.3L1452.7 1284.0Z" fill="#6612dc" stroke="#6612dc" stroke-width="4" stroke-linejoin="round"/>
<path d="M1487.5 1276.2L1504.8 1292.5L1487.5 1308.8L1470.2 1292.5Z" fill="#6612dc" stroke="#6612dc" stroke-width="4" stroke-linejoin="round"/>
<path d="M1500.0 1283.7L1517.3 1300.0L1500.0 1316.3L1482.7 1300.0Z" fill="#6612dc" stroke="#6612dc" stroke-width="4" stroke-linejoin="round"/>
<path d="M1512.5 1291.2L1529.8 1307.5L1512.5 1323.8L1495.2 1307.5Z" fill="#6612dc" stroke="#6612dc" stroke-width="4" stroke-linejoin="round"/>
<path d="M1530.0 1303.7L1547.3 1320.0L1530.0 1336.3L1512.7 1320.0Z" fill="#6612dc" stroke="#6612dc" stroke-width="4" stroke-linejoin="round"/>
<path d="M1545.0 1313.7L1562.3 1330.0L1545.0 1346.3L1527.7 1330.0Z" fill="#6612dc" stroke="#6612dc" stroke-width="4" stroke-linejoin="round"/>
<path d="M1557.5 1321.2L1574.8 1337.5L1557.5 1353.8L1540.2 1337.5Z" fill="#6612dc" stroke="#6612dc" stroke-width="4" stroke-linejoin="round"/>
<path d="M1570.0 1328.7L1587.3 1345.0L1570.0 1361.3L1552.7 1345.0Z" fill="#6612dc" stroke="#6612dc" stroke-width="4" stroke-linejoin="round"/>
<path d="M1589.0 1333.7L1606.3 1350.0L1589.0 1366.3L1571.7 1350.0Z" fill="#6612dc" stroke="#6612dc" stroke-width="4" stroke-linejoin="round"/>
<path d="M1599.5 1339.7L1616.8 1356.0L1599.5 1372.3L1582.2 1356.0Z" fill="#6612dc" stroke="#6612dc" stroke-width="4" stroke-linejoin="round"/>
<path d="M1610.0 1345.7L1627.3 1362.0L1610.0 1378.3L1592.7 1362.0Z" fill="#6612dc" stroke="#6612dc" stroke-width="4" stroke-linejoin="round"/>
<path d="M1630.0 1356.2L1647.3 1372.5L1630.0 1388.8L1612.7 1372.5Z" fill="#6612dc" stroke="#6612dc" stroke-width="4" stroke-linejoin="round"/>
<path d="M1650.0 1363.7L1667.3 1380.0L1650.0 1396.3L1632.7 1380.0Z" fill="#6612dc" stroke="#6612dc" stroke-width="4" stroke-linejoin="round"/>
<path d="M1665.0 1369.7L1682.3 1386.0L1665.0 1402.3L1647.7 1386.0Z" fill="#6612dc" stroke="#6612dc" stroke-width="4" stroke-linejoin="round"/>
<path d="M1677.0 1369.2L1694.3 1385.5L1677.0 1401.8L1659.7 1385.5Z" fill="#6612dc" stroke="#6612dc" stroke-width="4" stroke-linejoin="round"/>
<path d="M1689.0 1368.7L1706.3 1385.0L1689.0 1401.3L1671.7 1385.0Z" fill="#6612dc" stroke="#6612dc" stroke-width="4" stroke-linejoin="round"/>
<path d="M1707.0 1378.7L1724.3 1395.0L1707.0 1411.3L1689.7 1395.0Z" fill="#6612dc" stroke="#6612dc" stroke-width="4" stroke-linejoin="round"/>
<path d="M1717.2 1385.2L1734.5 1401.5L1717.2 1417.8L1700.0 1401.5Z" fill="#6612dc" stroke="#6612dc" stroke-width="4" stroke-linejoin="round"/>
<path d="M1727.5 1391.7L1744.8 1408.0L1727.5 1424.3L1710.2 1408.0Z" fill="#6612dc" stroke="#6612dc" stroke-width="4" stroke-linejoin="round"/>
<path d="M1738.0 1395.7L1755.3 1412.0L1738.0 1428.3L1720.7 1412.0Z" fill="#6612dc" stroke="#6612dc" stroke-width="4" stroke-linejoin="round"/>
<path d="M1749.0 1400.7L1766.3 1417.0L1749.0 1433.3L1731.7 1417.0Z" fill="#6612dc" stroke="#6612dc" stroke-width="4" stroke-linejoin="round"/>
<path d="M1767.0 1408.7L1784.3 1425.0L1767.0 1441.3L1749.7 1425.0Z" fill="#6612dc" stroke="#6612dc" stroke-width="4" stroke-linejoin="round"/>
<path d="M1787.0 1404.7L1804.3 1421.0L1787.0 1437.3L1769.7 1421.0Z" fill="#6612dc" stroke="#6612dc" stroke-width="4" stroke-linejoin="round"/>
<path d="M1800.0 1407.7L1817.3 1424.0L1800.0 1440.3L1782.7 1424.0Z" fill="#6612dc" stroke="#6612dc" stroke-width="4" stroke-linejoin="round"/>
<path d="M1812.0 1409.7L1829.3 1426.0L1812.0 1442.3L1794.7 1426.0Z" fill="#6612dc" stroke="#6612dc" stroke-width="4" stroke-linejoin="round"/>
<path d="M1823.0 1413.7L1840.3 1430.0L1823.0 1446.3L1805.7 1430.0Z" fill="#6612dc" stroke="#6612dc" stroke-width="4" stroke-linejoin="round"/>
<path d="M1835.0 1418.7L1852.3 1435.0L1835.0 1451.3L1817.7 1435.0Z" fill="#6612dc" stroke="#6612dc" stroke-width="4" stroke-linejoin="round"/>
<path d="M1846.0 1421.7L1863.3 1438.0L1846.0 1454.3L1828.7 1438.0Z" fill="#6612dc" stroke="#6612dc" stroke-width="4" stroke-linejoin="round"/>
<path d="M1857.0 1423.7L1874.3 1440.0L1857.0 1456.3L1839.7 1440.0Z" fill="#6612dc" stroke="#6612dc" stroke-width="4" stroke-linejoin="round"/>
<path d="M1870.0 1434.7L1887.3 1451.0L1870.0 1467.3L1852.7 1451.0Z" fill="#6612dc" stroke="#6612dc" stroke-width="4" stroke-linejoin="round"/>
<path d="M1881.0 1425.7L1898.3 1442.0L1881.0 1458.3L1863.7 1442.0Z" fill="#6612dc" stroke="#6612dc" stroke-width="4" stroke-linejoin="round"/>
<path d="M1892.0 1426.7L1909.3 1443.0L1892.0 1459.3L1874.7 1443.0Z" fill="#6612dc" stroke="#6612dc" stroke-width="4" stroke-linejoin="round"/>
<path d="M1904.0 1434.7L1921.3 1451.0L1904.0 1467.3L1886.7 1451.0Z" fill="#6612dc" stroke="#6612dc" stroke-width="4" stroke-linejoin="round"/>
<path d="M1913.0 1427.7L1930.3 1444.0L1913.0 1460.3L1895.7 1444.0Z" fill="#6612dc" stroke="#6612dc" stroke-width="4" stroke-linejoin="round"/>
</g>
<g id="s-red">
<path d="M216.0 814.7L233.3 831.0L216.0 847.3L198.7 831.0Z" fill="#e00505" stroke="#e00505" stroke-width="4" stroke-linejoin="round"/>
<path d="M244.5 652.7L261.8 669.0L244.5 685.3L227.2 669.0Z" fill="#e00505" stroke="#e00505" stroke-width="4" stroke-linejoin="round"/>
<path d="M275.5 428.7L292.8 445.0L275.5 461.3L258.2 445.0Z" fill="#e00505" stroke="#e00505" stroke-width="4" stroke-linejoin="round"/>
<path d="M306.5 592.7L323.8 609.0L306.5 625.3L289.2 609.0Z" fill="#e00505" stroke="#e00505" stroke-width="4" stroke-linejoin="round"/>
<path d="M334.5 727.7L351.8 744.0L334.5 760.3L317.2 744.0Z" fill="#e00505" stroke="#e00505" stroke-width="4" stroke-linejoin="round"/>
<path d="M366.0 738.7L383.3 755.0L366.0 771.3L348.7 755.0Z" fill="#e00505" stroke="#e00505" stroke-width="4" stroke-linejoin="round"/>
<path d="M394.0 844.7L411.3 861.0L394.0 877.3L376.7 861.0Z" fill="#e00505" stroke="#e00505" stroke-width="4" stroke-linejoin="round"/>
<path d="M425.0 856.2L442.3 872.5L425.0 888.8L407.7 872.5Z" fill="#e00505" stroke="#e00505" stroke-width="4" stroke-linejoin="round"/>
<path d="M456.5 879.7L473.8 896.0L456.5 912.3L439.2 896.0Z" fill="#e00505" stroke="#e00505" stroke-width="4" stroke-linejoin="round"/>
<path d="M485.0 929.7L502.3 946.0L485.0 962.3L467.7 946.0Z" fill="#e00505" stroke="#e00505" stroke-width="4" stroke-linejoin="round"/>
<path d="M515.0 949.2L532.3 965.5L515.0 981.8L497.7 965.5Z" fill="#e00505" stroke="#e00505" stroke-width="4" stroke-linejoin="round"/>
<path d="M543.8 916.2L561.1 932.5L543.8 948.8L526.5 932.5Z" fill="#e00505" stroke="#e00505" stroke-width="4" stroke-linejoin="round"/>
<path d="M575.0 991.2L592.3 1007.5L575.0 1023.8L557.7 1007.5Z" fill="#e00505" stroke="#e00505" stroke-width="4" stroke-linejoin="round"/>
<path d="M605.5 1122.5L622.8 1138.8L605.5 1155.1L588.2 1138.8Z" fill="#e00505" stroke="#e00505" stroke-width="4" stroke-linejoin="round"/>
<path d="M635.0 1221.2L652.3 1237.5L635.0 1253.8L617.7 1237.5Z" fill="#e00505" stroke="#e00505" stroke-width="4" stroke-linejoin="round"/>
<path d="M665.5 1263.7L682.8 1280.0L665.5 1296.3L648.2 1280.0Z" fill="#e00505" stroke="#e00505" stroke-width="4" stroke-linejoin="round"/>
<path d="M694.0 1294.7L711.3 1311.0L694.0 1327.3L676.7 1311.0Z" fill="#e00505" stroke="#e00505" stroke-width="4" stroke-linejoin="round"/>
<path d="M725.0 1259.7L742.3 1276.0L725.0 1292.3L707.7 1276.0Z" fill="#e00505" stroke="#e00505" stroke-width="4" stroke-linejoin="round"/>
<path d="M756.5 1235.7L773.8 1252.0L756.5 1268.3L739.2 1252.0Z" fill="#e00505" stroke="#e00505" stroke-width="4" stroke-linejoin="round"/>
<path d="M784.5 1218.7L801.8 1235.0L784.5 1251.3L767.2 1235.0Z" fill="#e00505" stroke="#e00505" stroke-width="4" stroke-linejoin="round"/>
<path d="M815.5 1230.7L832.8 1247.0L815.5 1263.3L798.2 1247.0Z" fill="#e00505" stroke="#e00505" stroke-width="4" stroke-linejoin="round"/>
<path d="M843.8 1219.7L861.1 1236.0L843.8 1252.3L826.5 1236.0Z" fill="#e00505" stroke="#e00505" stroke-width="4" stroke-linejoin="round"/>
<path d="M875.0 1231.2L892.3 1247.5L875.0 1263.8L857.7 1247.5Z" fill="#e00505" stroke="#e00505" stroke-width="4" stroke-linejoin="round"/>
<path d="M906.0 1217.7L923.3 1234.0L906.0 1250.3L888.7 1234.0Z" fill="#e00505" stroke="#e00505" stroke-width="4" stroke-linejoin="round"/>
<path d="M935.0 1219.7L952.3 1236.0L935.0 1252.3L917.7 1236.0Z" fill="#e00505" stroke="#e00505" stroke-width="4" stroke-linejoin="round"/>
<path d="M965.0 1223.7L982.3 1240.0L965.0 1256.3L947.7 1240.0Z" fill="#e00505" stroke="#e00505" stroke-width="4" stroke-linejoin="round"/>
<path d="M993.8 1222.7L1011.1 1239.0L993.8 1255.3L976.5 1239.0Z" fill="#e00505" stroke="#e00505" stroke-width="4" stroke-linejoin="round"/>
<path d="M1024.5 1232.7L1041.8 1249.0L1024.5 1265.3L1007.2 1249.0Z" fill="#e00505" stroke="#e00505" stroke-width="4" stroke-linejoin="round"/>
<path d="M1055.5 1239.7L1072.8 1256.0L1055.5 1272.3L1038.2 1256.0Z" fill="#e00505" stroke="#e00505" stroke-width="4" stroke-linejoin="round"/>
<path d="M1085.0 1237.7L1102.3 1254.0L1085.0 1270.3L1067.7 1254.0Z" fill="#e00505" stroke="#e00505" stroke-width="4" stroke-linejoin="round"/>
<path d="M1115.0 1242.7L1132.3 1259.0L1115.0 1275.3L1097.7 1259.0Z" fill="#e00505" stroke="#e00505" stroke-width="4" stroke-linejoin="round"/>
<path d="M1143.8 1243.7L1161.1 1260.0L1143.8 1276.3L1126.5 1260.0Z" fill="#e00505" stroke="#e00505" stroke-width="4" stroke-linejoin="round"/>
<path d="M1174.0 1259.7L1191.3 1276.0L1174.0 1292.3L1156.7 1276.0Z" fill="#e00505" stroke="#e00505" stroke-width="4" stroke-linejoin="round"/>
<path d="M1205.5 1263.7L1222.8 1280.0L1205.5 1296.3L1188.2 1280.0Z" fill="#e00505" stroke="#e00505" stroke-width="4" stroke-linejoin="round"/>
<path d="M1233.8 1271.7L1251.1 1288.0L1233.8 1304.3L1216.5 1288.0Z" fill="#e00505" stroke="#e00505" stroke-width="4" stroke-linejoin="round"/>
<path d="M1265.0 1280.7L1282.3 1297.0L1265.0 1313.3L1247.7 1297.0Z" fill="#e00505" stroke="#e00505" stroke-width="4" stroke-linejoin="round"/>
<path d="M1293.8 1296.2L1311.1 1312.5L1293.8 1328.8L1276.5 1312.5Z" fill="#e00505" stroke="#e00505" stroke-width="4" stroke-linejoin="round"/>
<path d="M1324.5 1296.2L1341.8 1312.5L1324.5 1328.8L1307.2 1312.5Z" fill="#e00505" stroke="#e00505" stroke-width="4" stroke-linejoin="round"/>
<path d="M1355.5 1306.2L1372.8 1322.5L1355.5 1338.8L1338.2 1322.5Z" fill="#e00505" stroke="#e00505" stroke-width="4" stroke-linejoin="round"/>
<path d="M1383.8 1312.7L1401.1 1329.0L1383.8 1345.3L1366.5 1329.0Z" fill="#e00505" stroke="#e00505" stroke-width="4" stroke-linejoin="round"/>
<path d="M1415.0 1314.7L1432.3 1331.0L1415.0 1347.3L1397.7 1331.0Z" fill="#e00505" stroke="#e00505" stroke-width="4" stroke-linejoin="round"/>
<path d="M1443.0 1327.7L1460.3 1344.0L1443.0 1360.3L1425.7 1344.0Z" fill="#e00505" stroke="#e00505" stroke-width="4" stroke-linejoin="round"/>
<path d="M1474.0 1332.7L1491.3 1349.0L1474.0 1365.3L1456.7 1349.0Z" fill="#e00505" stroke="#e00505" stroke-width="4" stroke-linejoin="round"/>
<path d="M1505.0 1344.7L1522.3 1361.0L1505.0 1377.3L1487.7 1361.0Z" fill="#e00505" stroke="#e00505" stroke-width="4" stroke-linejoin="round"/>
<path d="M1533.8 1353.7L1551.1 1370.0L1533.8 1386.3L1516.5 1370.0Z" fill="#e00505" stroke="#e00505" stroke-width="4" stroke-linejoin="round"/>
<path d="M1564.5 1356.2L1581.8 1372.5L1564.5 1388.8L1547.2 1372.5Z" fill="#e00505" stroke="#e00505" stroke-width="4" stroke-linejoin="round"/>
<path d="M1593.0 1369.7L1610.3 1386.0L1593.0 1402.3L1575.7 1386.0Z" fill="#e00505" stroke="#e00505" stroke-width="4" stroke-linejoin="round"/>
<path d="M1624.0 1367.7L1641.3 1384.0L1624.0 1400.3L1606.7 1384.0Z" fill="#e00505" stroke="#e00505" stroke-width="4" stroke-linejoin="round"/>
<path d="M1655.0 1377.7L1672.3 1394.0L1655.0 1410.3L1637.7 1394.0Z" fill="#e00505" stroke="#e00505" stroke-width="4" stroke-linejoin="round"/>
<path d="M1683.5 1373.7L1700.8 1390.0L1683.5 1406.3L1666.2 1390.0Z" fill="#e00505" stroke="#e00505" stroke-width="4" stroke-linejoin="round"/>
<path d="M1714.0 1390.7L1731.3 1407.0L1714.0 1423.3L1696.7 1407.0Z" fill="#e00505" stroke="#e00505" stroke-width="4" stroke-linejoin="round"/>
<path d="M1742.6 1387.2L1759.9 1403.5L1742.6 1419.8L1725.3 1403.5Z" fill="#e00505" stroke="#e00505" stroke-width="4" stroke-linejoin="round"/>
<path d="M1773.5 1395.7L1790.8 1412.0L1773.5 1428.3L1756.2 1412.0Z" fill="#e00505" stroke="#e00505" stroke-width="4" stroke-linejoin="round"/>
<path d="M1804.6 1393.7L1821.9 1410.0L1804.6 1426.3L1787.3 1410.0Z" fill="#e00505" stroke="#e00505" stroke-width="4" stroke-linejoin="round"/>
<path d="M1832.8 1384.2L1850.1 1400.5L1832.8 1416.8L1815.5 1400.5Z" fill="#e00505" stroke="#e00505" stroke-width="4" stroke-linejoin="round"/>
<path d="M1864.0 1400.2L1881.3 1416.5L1864.0 1432.8L1846.7 1416.5Z" fill="#e00505" stroke="#e00505" stroke-width="4" stroke-linejoin="round"/>
<path d="M1892.5 1395.7L1909.8 1412.0L1892.5 1428.3L1875.2 1412.0Z" fill="#e00505" stroke="#e00505" stroke-width="4" stroke-linejoin="round"/>
<path d="M1923.0 1414.7L1940.3 1431.0L1923.0 1447.3L1905.7 1431.0Z" fill="#e00505" stroke="#e00505" stroke-width="4" stroke-linejoin="round"/>
<path d="M1954.0 1419.2L1971.3 1435.5L1954.0 1451.8L1936.7 1435.5Z" fill="#e00505" stroke="#e00505" stroke-width="4" stroke-linejoin="round"/>
<path d="M1983.0 1414.7L2000.3 1431.0L1983.0 1447.3L1965.7 1431.0Z" fill="#e00505" stroke="#e00505" stroke-width="4" stroke-linejoin="round"/>
</g>
<g id="s-green">
<path d="M216.0 1047.8L233.0 1064.0L216.0 1080.2L199.0 1064.0Z" fill="#a2c734" stroke="#168c1c" stroke-width="5" stroke-linejoin="round"/>
<path d="M244.5 766.3L261.5 782.5L244.5 798.7L227.5 782.5Z" fill="#a2c734" stroke="#168c1c" stroke-width="5" stroke-linejoin="round"/>
<path d="M275.5 578.3L292.5 594.5L275.5 610.7L258.5 594.5Z" fill="#a2c734" stroke="#168c1c" stroke-width="5" stroke-linejoin="round"/>
<path d="M306.5 632.8L323.5 649.0L306.5 665.2L289.5 649.0Z" fill="#a2c734" stroke="#168c1c" stroke-width="5" stroke-linejoin="round"/>
<path d="M334.5 801.8L351.5 818.0L334.5 834.2L317.5 818.0Z" fill="#a2c734" stroke="#168c1c" stroke-width="5" stroke-linejoin="round"/>
<path d="M366.0 861.8L383.0 878.0L366.0 894.2L349.0 878.0Z" fill="#a2c734" stroke="#168c1c" stroke-width="5" stroke-linejoin="round"/>
<path d="M394.0 949.3L411.0 965.5L394.0 981.7L377.0 965.5Z" fill="#a2c734" stroke="#168c1c" stroke-width="5" stroke-linejoin="round"/>
<path d="M425.0 949.3L442.0 965.5L425.0 981.7L408.0 965.5Z" fill="#a2c734" stroke="#168c1c" stroke-width="5" stroke-linejoin="round"/>
<path d="M456.5 1003.3L473.5 1019.5L456.5 1035.7L439.5 1019.5Z" fill="#a2c734" stroke="#168c1c" stroke-width="5" stroke-linejoin="round"/>
<path d="M485.0 1068.8L502.0 1085.0L485.0 1101.2L468.0 1085.0Z" fill="#a2c734" stroke="#168c1c" stroke-width="5" stroke-linejoin="round"/>
<path d="M515.0 1092.8L532.0 1109.0L515.0 1125.2L498.0 1109.0Z" fill="#a2c734" stroke="#168c1c" stroke-width="5" stroke-linejoin="round"/>
<path d="M543.8 1164.8L560.8 1181.0L543.8 1197.2L526.8 1181.0Z" fill="#a2c734" stroke="#168c1c" stroke-width="5" stroke-linejoin="round"/>
<path d="M575.0 1239.8L592.0 1256.0L575.0 1272.2L558.0 1256.0Z" fill="#a2c734" stroke="#168c1c" stroke-width="5" stroke-linejoin="round"/>
<path d="M605.5 1358.8L622.5 1375.0L605.5 1391.2L588.5 1375.0Z" fill="#a2c734" stroke="#168c1c" stroke-width="5" stroke-linejoin="round"/>
<path d="M640.0 1431.3L657.0 1447.5L640.0 1463.7L623.0 1447.5Z" fill="#a2c734" stroke="#168c1c" stroke-width="5" stroke-linejoin="round"/>
<path d="M694.0 1403.8L711.0 1420.0L694.0 1436.2L677.0 1420.0Z" fill="#a2c734" stroke="#168c1c" stroke-width="5" stroke-linejoin="round"/>
<path d="M725.0 1298.8L742.0 1315.0L725.0 1331.2L708.0 1315.0Z" fill="#a2c734" stroke="#168c1c" stroke-width="5" stroke-linejoin="round"/>
<path d="M756.5 1226.8L773.5 1243.0L756.5 1259.2L739.5 1243.0Z" fill="#a2c734" stroke="#168c1c" stroke-width="5" stroke-linejoin="round"/>
<path d="M784.5 1183.8L801.5 1200.0L784.5 1216.2L767.5 1200.0Z" fill="#a2c734" stroke="#168c1c" stroke-width="5" stroke-linejoin="round"/>
<path d="M815.5 1167.8L832.5 1184.0L815.5 1200.2L798.5 1184.0Z" fill="#a2c734" stroke="#168c1c" stroke-width="5" stroke-linejoin="round"/>
<path d="M843.8 1146.3L860.8 1162.5L843.8 1178.7L826.8 1162.5Z" fill="#a2c734" stroke="#168c1c" stroke-width="5" stroke-linejoin="round"/>
<path d="M875.0 1138.3L892.0 1154.5L875.0 1170.7L858.0 1154.5Z" fill="#a2c734" stroke="#168c1c" stroke-width="5" stroke-linejoin="round"/>
<path d="M906.0 1119.8L923.0 1136.0L906.0 1152.2L889.0 1136.0Z" fill="#a2c734" stroke="#168c1c" stroke-width="5" stroke-linejoin="round"/>
<path d="M935.0 1122.8L952.0 1139.0L935.0 1155.2L918.0 1139.0Z" fill="#a2c734" stroke="#168c1c" stroke-width="5" stroke-linejoin="round"/>
<path d="M965.0 1116.3L982.0 1132.5L965.0 1148.7L948.0 1132.5Z" fill="#a2c734" stroke="#168c1c" stroke-width="5" stroke-linejoin="round"/>
<path d="M993.8 1110.8L1010.8 1127.0L993.8 1143.2L976.8 1127.0Z" fill="#a2c734" stroke="#168c1c" stroke-width="5" stroke-linejoin="round"/>
<path d="M1024.5 1113.8L1041.5 1130.0L1024.5 1146.2L1007.5 1130.0Z" fill="#a2c734" stroke="#168c1c" stroke-width="5" stroke-linejoin="round"/>
<path d="M1055.5 1113.8L1072.5 1130.0L1055.5 1146.2L1038.5 1130.0Z" fill="#a2c734" stroke="#168c1c" stroke-width="5" stroke-linejoin="round"/>
<path d="M1085.0 1103.8L1102.0 1120.0L1085.0 1136.2L1068.0 1120.0Z" fill="#a2c734" stroke="#168c1c" stroke-width="5" stroke-linejoin="round"/>
<path d="M1115.0 1101.8L1132.0 1118.0L1115.0 1134.2L1098.0 1118.0Z" fill="#a2c734" stroke="#168c1c" stroke-width="5" stroke-linejoin="round"/>
<path d="M1143.8 1094.8L1160.8 1111.0L1143.8 1127.2L1126.8 1111.0Z" fill="#a2c734" stroke="#168c1c" stroke-width="5" stroke-linejoin="round"/>
<path d="M1174.0 1104.8L1191.0 1121.0L1174.0 1137.2L1157.0 1121.0Z" fill="#a2c734" stroke="#168c1c" stroke-width="5" stroke-linejoin="round"/>
<path d="M1205.5 1107.8L1222.5 1124.0L1205.5 1140.2L1188.5 1124.0Z" fill="#a2c734" stroke="#168c1c" stroke-width="5" stroke-linejoin="round"/>
<path d="M1233.8 1110.8L1250.8 1127.0L1233.8 1143.2L1216.8 1127.0Z" fill="#a2c734" stroke="#168c1c" stroke-width="5" stroke-linejoin="round"/>
<path d="M1265.0 1107.8L1282.0 1124.0L1265.0 1140.2L1248.0 1124.0Z" fill="#a2c734" stroke="#168c1c" stroke-width="5" stroke-linejoin="round"/>
<path d="M1293.8 1119.8L1310.8 1136.0L1293.8 1152.2L1276.8 1136.0Z" fill="#a2c734" stroke="#168c1c" stroke-width="5" stroke-linejoin="round"/>
<path d="M1324.5 1119.8L1341.5 1136.0L1324.5 1152.2L1307.5 1136.0Z" fill="#a2c734" stroke="#168c1c" stroke-width="5" stroke-linejoin="round"/>
<path d="M1355.5 1116.3L1372.5 1132.5L1355.5 1148.7L1338.5 1132.5Z" fill="#a2c734" stroke="#168c1c" stroke-width="5" stroke-linejoin="round"/>
<path d="M1383.8 1118.8L1400.8 1135.0L1383.8 1151.2L1366.8 1135.0Z" fill="#a2c734" stroke="#168c1c" stroke-width="5" stroke-linejoin="round"/>
<path d="M1415.0 1121.3L1432.0 1137.5L1415.0 1153.7L1398.0 1137.5Z" fill="#a2c734" stroke="#168c1c" stroke-width="5" stroke-linejoin="round"/>
<path d="M1443.0 1127.8L1460.0 1144.0L1443.0 1160.2L1426.0 1144.0Z" fill="#a2c734" stroke="#168c1c" stroke-width="5" stroke-linejoin="round"/>
<path d="M1474.0 1131.3L1491.0 1147.5L1474.0 1163.7L1457.0 1147.5Z" fill="#a2c734" stroke="#168c1c" stroke-width="5" stroke-linejoin="round"/>
<path d="M1505.0 1134.8L1522.0 1151.0L1505.0 1167.2L1488.0 1151.0Z" fill="#a2c734" stroke="#168c1c" stroke-width="5" stroke-linejoin="round"/>
<path d="M1533.8 1141.3L1550.8 1157.5L1533.8 1173.7L1516.8 1157.5Z" fill="#a2c734" stroke="#168c1c" stroke-width="5" stroke-linejoin="round"/>
<path d="M1564.5 1136.3L1581.5 1152.5L1564.5 1168.7L1547.5 1152.5Z" fill="#a2c734" stroke="#168c1c" stroke-width="5" stroke-linejoin="round"/>
<path d="M1593.0 1142.8L1610.0 1159.0L1593.0 1175.2L1576.0 1159.0Z" fill="#a2c734" stroke="#168c1c" stroke-width="5" stroke-linejoin="round"/>
<path d="M1624.0 1142.8L1641.0 1159.0L1624.0 1175.2L1607.0 1159.0Z" fill="#a2c734" stroke="#168c1c" stroke-width="5" stroke-linejoin="round"/>
<path d="M1655.0 1146.3L1672.0 1162.5L1655.0 1178.7L1638.0 1162.5Z" fill="#a2c734" stroke="#168c1c" stroke-width="5" stroke-linejoin="round"/>
<path d="M1683.5 1138.8L1700.5 1155.0L1683.5 1171.2L1666.5 1155.0Z" fill="#a2c734" stroke="#168c1c" stroke-width="5" stroke-linejoin="round"/>
<path d="M1714.0 1154.8L1731.0 1171.0L1714.0 1187.2L1697.0 1171.0Z" fill="#a2c734" stroke="#168c1c" stroke-width="5" stroke-linejoin="round"/>
<path d="M1742.6 1152.8L1759.6 1169.0L1742.6 1185.2L1725.6 1169.0Z" fill="#a2c734" stroke="#168c1c" stroke-width="5" stroke-linejoin="round"/>
<path d="M1773.5 1146.3L1790.5 1162.5L1773.5 1178.7L1756.5 1162.5Z" fill="#a2c734" stroke="#168c1c" stroke-width="5" stroke-linejoin="round"/>
<path d="M1804.6 1137.8L1821.6 1154.0L1804.6 1170.2L1787.6 1154.0Z" fill="#a2c734" stroke="#168c1c" stroke-width="5" stroke-linejoin="round"/>
<path d="M1832.8 1146.3L1849.8 1162.5L1832.8 1178.7L1815.8 1162.5Z" fill="#a2c734" stroke="#168c1c" stroke-width="5" stroke-linejoin="round"/>
<path d="M1864.0 1151.8L1881.0 1168.0L1864.0 1184.2L1847.0 1168.0Z" fill="#a2c734" stroke="#168c1c" stroke-width="5" stroke-linejoin="round"/>
<path d="M1892.5 1128.3L1909.5 1144.5L1892.5 1160.7L1875.5 1144.5Z" fill="#a2c734" stroke="#168c1c" stroke-width="5" stroke-linejoin="round"/>
<path d="M1923.0 1167.8L1940.0 1184.0L1923.0 1200.2L1906.0 1184.0Z" fill="#a2c734" stroke="#168c1c" stroke-width="5" stroke-linejoin="round"/>
<path d="M1954.0 1154.8L1971.0 1171.0L1954.0 1187.2L1937.0 1171.0Z" fill="#a2c734" stroke="#168c1c" stroke-width="5" stroke-linejoin="round"/>
<path d="M1983.0 1152.8L2000.0 1169.0L1983.0 1185.2L1966.0 1169.0Z" fill="#a2c734" stroke="#168c1c" stroke-width="5" stroke-linejoin="round"/>
</g>
<g id="s-blue">
<path d="M216.0 787.7L233.3 804.0L216.0 820.3L198.7 804.0Z" fill="#0000d4" stroke="#0000d4" stroke-width="4" stroke-linejoin="round"/>
<path d="M244.5 191.7L261.8 208.0L244.5 224.3L227.2 208.0Z" fill="#0000d4" stroke="#0000d4" stroke-width="4" stroke-linejoin="round"/>
<path d="M275.5 209.7L292.8 226.0L275.5 242.3L258.2 226.0Z" fill="#0000d4" stroke="#0000d4" stroke-width="4" stroke-linejoin="round"/>
<path d="M306.5 314.7L323.8 331.0L306.5 347.3L289.2 331.0Z" fill="#0000d4" stroke="#0000d4" stroke-width="4" stroke-linejoin="round"/>
<path d="M334.5 359.7L351.8 376.0L334.5 392.3L317.2 376.0Z" fill="#0000d4" stroke="#0000d4" stroke-width="4" stroke-linejoin="round"/>
<path d="M366.0 356.7L383.3 373.0L366.0 389.3L348.7 373.0Z" fill="#0000d4" stroke="#0000d4" stroke-width="4" stroke-linejoin="round"/>
<path d="M394.0 373.7L411.3 390.0L394.0 406.3L376.7 390.0Z" fill="#0000d4" stroke="#0000d4" stroke-width="4" stroke-linejoin="round"/>
<path d="M425.0 406.7L442.3 423.0L425.0 439.3L407.7 423.0Z" fill="#0000d4" stroke="#0000d4" stroke-width="4" stroke-linejoin="round"/>
<path d="M456.5 458.7L473.8 475.0L456.5 491.3L439.2 475.0Z" fill="#0000d4" stroke="#0000d4" stroke-width="4" stroke-linejoin="round"/>
<path d="M485.0 483.7L502.3 500.0L485.0 516.3L467.7 500.0Z" fill="#0000d4" stroke="#0000d4" stroke-width="4" stroke-linejoin="round"/>
<path d="M515.0 538.7L532.3 555.0L515.0 571.3L497.7 555.0Z" fill="#0000d4" stroke="#0000d4" stroke-width="4" stroke-linejoin="round"/>
<path d="M543.8 589.7L561.1 606.0L543.8 622.3L526.5 606.0Z" fill="#0000d4" stroke="#0000d4" stroke-width="4" stroke-linejoin="round"/>
<path d="M575.0 619.7L592.3 636.0L575.0 652.3L557.7 636.0Z" fill="#0000d4" stroke="#0000d4" stroke-width="4" stroke-linejoin="round"/>
<path d="M605.5 721.7L622.8 738.0L605.5 754.3L588.2 738.0Z" fill="#0000d4" stroke="#0000d4" stroke-width="4" stroke-linejoin="round"/>
<path d="M635.0 724.2L652.3 740.5L635.0 756.8L617.7 740.5Z" fill="#0000d4" stroke="#0000d4" stroke-width="4" stroke-linejoin="round"/>
<path d="M665.5 791.2L682.8 807.5L665.5 823.8L648.2 807.5Z" fill="#0000d4" stroke="#0000d4" stroke-width="4" stroke-linejoin="round"/>
<path d="M694.0 799.7L711.3 816.0L694.0 832.3L676.7 816.0Z" fill="#0000d4" stroke="#0000d4" stroke-width="4" stroke-linejoin="round"/>
<path d="M725.0 823.7L742.3 840.0L725.0 856.3L707.7 840.0Z" fill="#0000d4" stroke="#0000d4" stroke-width="4" stroke-linejoin="round"/>
<path d="M756.5 844.2L773.8 860.5L756.5 876.8L739.2 860.5Z" fill="#0000d4" stroke="#0000d4" stroke-width="4" stroke-linejoin="round"/>
<path d="M784.5 880.7L801.8 897.0L784.5 913.3L767.2 897.0Z" fill="#0000d4" stroke="#0000d4" stroke-width="4" stroke-linejoin="round"/>
<path d="M815.5 909.7L832.8 926.0L815.5 942.3L798.2 926.0Z" fill="#0000d4" stroke="#0000d4" stroke-width="4" stroke-linejoin="round"/>
<path d="M843.8 929.7L861.1 946.0L843.8 962.3L826.5 946.0Z" fill="#0000d4" stroke="#0000d4" stroke-width="4" stroke-linejoin="round"/>
<path d="M875.0 964.7L892.3 981.0L875.0 997.3L857.7 981.0Z" fill="#0000d4" stroke="#0000d4" stroke-width="4" stroke-linejoin="round"/>
<path d="M906.0 976.2L923.3 992.5L906.0 1008.8L888.7 992.5Z" fill="#0000d4" stroke="#0000d4" stroke-width="4" stroke-linejoin="round"/>
<path d="M935.0 990.7L952.3 1007.0L935.0 1023.3L917.7 1007.0Z" fill="#0000d4" stroke="#0000d4" stroke-width="4" stroke-linejoin="round"/>
<path d="M965.0 1012.7L982.3 1029.0L965.0 1045.3L947.7 1029.0Z" fill="#0000d4" stroke="#0000d4" stroke-width="4" stroke-linejoin="round"/>
<path d="M993.8 1021.2L1011.1 1037.5L993.8 1053.8L976.5 1037.5Z" fill="#0000d4" stroke="#0000d4" stroke-width="4" stroke-linejoin="round"/>
<path d="M1024.5 1018.7L1041.8 1035.0L1024.5 1051.3L1007.2 1035.0Z" fill="#0000d4" stroke="#0000d4" stroke-width="4" stroke-linejoin="round"/>
<path d="M1055.5 1021.2L1072.8 1037.5L1055.5 1053.8L1038.2 1037.5Z" fill="#0000d4" stroke="#0000d4" stroke-width="4" stroke-linejoin="round"/>
<path d="M1085.0 1012.7L1102.3 1029.0L1085.0 1045.3L1067.7 1029.0Z" fill="#0000d4" stroke="#0000d4" stroke-width="4" stroke-linejoin="round"/>
<path d="M1115.0 984.7L1132.3 1001.0L1115.0 1017.3L1097.7 1001.0Z" fill="#0000d4" stroke="#0000d4" stroke-width="4" stroke-linejoin="round"/>
<path d="M1143.8 963.7L1161.1 980.0L1143.8 996.3L1126.5 980.0Z" fill="#0000d4" stroke="#0000d4" stroke-width="4" stroke-linejoin="round"/>
<path d="M1174.0 937.7L1191.3 954.0L1174.0 970.3L1156.7 954.0Z" fill="#0000d4" stroke="#0000d4" stroke-width="4" stroke-linejoin="round"/>
<path d="M1205.5 918.7L1222.8 935.0L1205.5 951.3L1188.2 935.0Z" fill="#0000d4" stroke="#0000d4" stroke-width="4" stroke-linejoin="round"/>
<path d="M1233.8 912.7L1251.1 929.0L1233.8 945.3L1216.5 929.0Z" fill="#0000d4" stroke="#0000d4" stroke-width="4" stroke-linejoin="round"/>
<path d="M1265.0 912.7L1282.3 929.0L1265.0 945.3L1247.7 929.0Z" fill="#0000d4" stroke="#0000d4" stroke-width="4" stroke-linejoin="round"/>
<path d="M1293.8 924.7L1311.1 941.0L1293.8 957.3L1276.5 941.0Z" fill="#0000d4" stroke="#0000d4" stroke-width="4" stroke-linejoin="round"/>
<path d="M1324.5 943.7L1341.8 960.0L1324.5 976.3L1307.2 960.0Z" fill="#0000d4" stroke="#0000d4" stroke-width="4" stroke-linejoin="round"/>
<path d="M1355.5 970.7L1372.8 987.0L1355.5 1003.3L1338.2 987.0Z" fill="#0000d4" stroke="#0000d4" stroke-width="4" stroke-linejoin="round"/>
<path d="M1383.8 994.7L1401.1 1011.0L1383.8 1027.3L1366.5 1011.0Z" fill="#0000d4" stroke="#0000d4" stroke-width="4" stroke-linejoin="round"/>
<path d="M1415.0 1023.7L1432.3 1040.0L1415.0 1056.3L1397.7 1040.0Z" fill="#0000d4" stroke="#0000d4" stroke-width="4" stroke-linejoin="round"/>
<path d="M1443.0 1056.7L1460.3 1073.0L1443.0 1089.3L1425.7 1073.0Z" fill="#0000d4" stroke="#0000d4" stroke-width="4" stroke-linejoin="round"/>
<path d="M1474.0 1077.7L1491.3 1094.0L1474.0 1110.3L1456.7 1094.0Z" fill="#0000d4" stroke="#0000d4" stroke-width="4" stroke-linejoin="round"/>
<path d="M1505.0 1110.7L1522.3 1127.0L1505.0 1143.3L1487.7 1127.0Z" fill="#0000d4" stroke="#0000d4" stroke-width="4" stroke-linejoin="round"/>
<path d="M1533.8 1134.7L1551.1 1151.0L1533.8 1167.3L1516.5 1151.0Z" fill="#0000d4" stroke="#0000d4" stroke-width="4" stroke-linejoin="round"/>
<path d="M1564.5 1158.7L1581.8 1175.0L1564.5 1191.3L1547.2 1175.0Z" fill="#0000d4" stroke="#0000d4" stroke-width="4" stroke-linejoin="round"/>
<path d="M1593.0 1182.7L1610.3 1199.0L1593.0 1215.3L1575.7 1199.0Z" fill="#0000d4" stroke="#0000d4" stroke-width="4" stroke-linejoin="round"/>
<path d="M1624.0 1214.7L1641.3 1231.0L1624.0 1247.3L1606.7 1231.0Z" fill="#0000d4" stroke="#0000d4" stroke-width="4" stroke-linejoin="round"/>
<path d="M1655.0 1226.7L1672.3 1243.0L1655.0 1259.3L1637.7 1243.0Z" fill="#0000d4" stroke="#0000d4" stroke-width="4" stroke-linejoin="round"/>
<path d="M1683.5 1257.7L1700.8 1274.0L1683.5 1290.3L1666.2 1274.0Z" fill="#0000d4" stroke="#0000d4" stroke-width="4" stroke-linejoin="round"/>
<path d="M1714.0 1268.7L1731.3 1285.0L1714.0 1301.3L1696.7 1285.0Z" fill="#0000d4" stroke="#0000d4" stroke-width="4" stroke-linejoin="round"/>
<path d="M1742.6 1287.7L1759.9 1304.0L1742.6 1320.3L1725.3 1304.0Z" fill="#0000d4" stroke="#0000d4" stroke-width="4" stroke-linejoin="round"/>
<path d="M1773.5 1311.2L1790.8 1327.5L1773.5 1343.8L1756.2 1327.5Z" fill="#0000d4" stroke="#0000d4" stroke-width="4" stroke-linejoin="round"/>
<path d="M1804.6 1319.7L1821.9 1336.0L1804.6 1352.3L1787.3 1336.0Z" fill="#0000d4" stroke="#0000d4" stroke-width="4" stroke-linejoin="round"/>
<path d="M1832.8 1337.7L1850.1 1354.0L1832.8 1370.3L1815.5 1354.0Z" fill="#0000d4" stroke="#0000d4" stroke-width="4" stroke-linejoin="round"/>
<path d="M1864.0 1357.2L1881.3 1373.5L1864.0 1389.8L1846.7 1373.5Z" fill="#0000d4" stroke="#0000d4" stroke-width="4" stroke-linejoin="round"/>
<path d="M1892.5 1372.7L1909.8 1389.0L1892.5 1405.3L1875.2 1389.0Z" fill="#0000d4" stroke="#0000d4" stroke-width="4" stroke-linejoin="round"/>
<path d="M1923.0 1378.7L1940.3 1395.0L1923.0 1411.3L1905.7 1395.0Z" fill="#0000d4" stroke="#0000d4" stroke-width="4" stroke-linejoin="round"/>
<path d="M1954.0 1378.7L1971.3 1395.0L1954.0 1411.3L1936.7 1395.0Z" fill="#0000d4" stroke="#0000d4" stroke-width="4" stroke-linejoin="round"/>
<path d="M1983.0 1421.2L2000.3 1437.5L1983.0 1453.8L1965.7 1437.5Z" fill="#0000d4" stroke="#0000d4" stroke-width="4" stroke-linejoin="round"/>
</g>
</g>
<g id="frame">
<line x1="204.3" y1="20" x2="204.8" y2="1471" stroke="#000" stroke-width="6.5"/>
<line x1="2002" y1="17" x2="2005.3" y2="1476" stroke="#000" stroke-width="6.5"/>
<line x1="201" y1="23" x2="2005" y2="20" stroke="#1c1c1c" stroke-width="5.5"/>
<line x1="201" y1="1451.5" x2="2008" y2="1451.5" stroke="#000" stroke-width="6.5"/>
<text x="199" y="1552.5" font-size="94" text-anchor="middle" font-family="Liberation Sans, Arial, sans-serif" fill="#000">200</text>
<line x1="503.75" y1="1451" x2="503.75" y2="1479" stroke="#000" stroke-width="6.5"/>
<text x="499" y="1552.5" font-size="94" text-anchor="middle" font-family="Liberation Sans, Arial, sans-serif" fill="#000">300</text>
<line x1="805" y1="1451" x2="805" y2="1479" stroke="#000" stroke-width="6.5"/>
<text x="798" y="1552.5" font-size="94" text-anchor="middle" font-family="Liberation Sans, Arial, sans-serif" fill="#000">400</text>
<line x1="1105.5" y1="1451" x2="1105.5" y2="1479" stroke="#000" stroke-width="6.5"/>
<text x="1098.6" y="1552.5" font-size="94" text-anchor="middle" font-family="Liberation Sans, Arial, sans-serif" fill="#000">500</text>
<line x1="1404.5" y1="1451" x2="1404.5" y2="1479" stroke="#000" stroke-width="6.5"/>
<text x="1398.5" y="1552.5" font-size="94" text-anchor="middle" font-family="Liberation Sans, Arial, sans-serif" fill="#000">600</text>
<line x1="1706" y1="1451" x2="1706" y2="1479" stroke="#000" stroke-width="6.5"/>
<text x="1698.3" y="1552.5" font-size="94" text-anchor="middle" font-family="Liberation Sans, Arial, sans-serif" fill="#000">700</text>
<text x="1998" y="1552.5" font-size="94" text-anchor="middle" font-family="Liberation Sans, Arial, sans-serif" fill="#000">800</text>

</g>
<g id="legend">
<line x1="1252.5" y1="120.3" x2="1310" y2="120.3" stroke="#000" stroke-width="8.6" stroke-linecap="round"/>
<text x="1349.5" y="130" font-size="88.2" font-family="Liberation Sans, Arial, sans-serif" fill="#000">MgGaAl</text>
<line x1="1249" y1="219.2" x2="1305.5" y2="219.2" stroke="#cc0000" stroke-width="8.6" stroke-linecap="round"/>
<text x="1350.3" y="238.7" font-size="88.2" font-family="Liberation Sans, Arial, sans-serif" fill="#000">Ag_MgGaAl</text>
<line x1="1252.5" y1="323" x2="1308.5" y2="323" stroke="#5a08cc" stroke-width="8.6" stroke-linecap="round"/>
<text x="1350.3" y="342.2" font-size="88.2" font-family="Liberation Sans, Arial, sans-serif" fill="#000">Au_MgGaAl</text>
<line x1="1255" y1="423.5" x2="1310" y2="423.5" stroke="#62a83c" stroke-width="8.6" stroke-linecap="round"/>
<text x="1350.3" y="450.4" font-size="88.2" font-family="Liberation Sans, Arial, sans-serif" fill="#000">Ag_MgGaAl-Cal</text>
<line x1="1257" y1="530.7" x2="1314" y2="530.7" stroke="#0000ff" stroke-width="8.6" stroke-linecap="round"/>
<text x="1350.3" y="559" font-size="88.2" font-family="Liberation Sans, Arial, sans-serif" fill="#000">Au_MgGaAl-Cal</text>

</g>
<text id="xtitle" x="600.5" y="1714" font-size="138" letter-spacing="0.12" font-family="Liberation Sans, Arial, sans-serif" fill="#000">wavelength (nm)</text>
<text id="ytitle" transform="translate(137.5 1233) rotate(-90)" font-size="138" font-family="Liberation Sans, Arial, sans-serif" fill="#000">intensity (a.u.)</text>
</g>
</svg>
</body></html>
